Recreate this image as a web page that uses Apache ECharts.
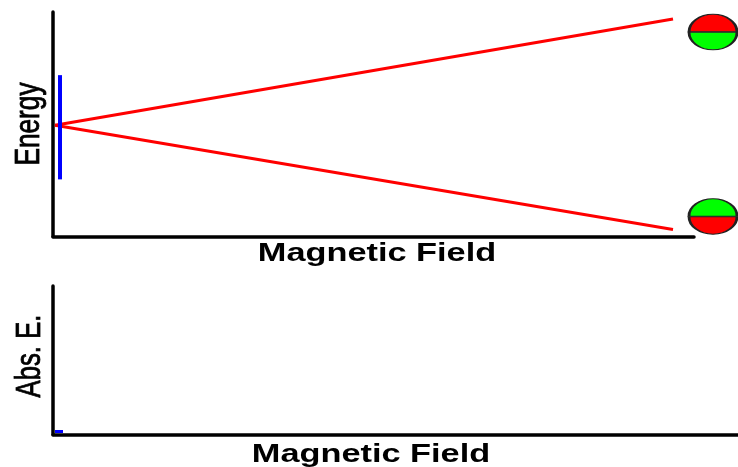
<!DOCTYPE html>
<html>
<head>
<meta charset="utf-8">
<style>html,body{margin:0;padding:0;background:#fff}#c{width:738px;height:467px}</style>
<script src="https://cdn.jsdelivr.net/npm/echarts@6/dist/echarts.min.js"></script>
</head>
<body>
<div id="c"></div>
<script>
// Data, in axis units
const upperLevel = [[2, 111], [620, 217]];
const lowerLevel = [[2, 111], [620, 7]];
const fieldMarker = [[7, 57], [7, 161]];
const absorption = [[2, 3], [10, 3]];
const spinUpState = [660, 204];
const spinDownState = [660, 20];
const xTitle = 'Magnetic Field';
const energyTitle = 'Energy';
const absTitle = 'Abs. E.';

const halfUp = 'path://M0 50A50 50 0 0 1 100 50Z';
const halfDown = 'path://M0 0A50 50 0 0 0 100 0Z';
const BLACK = '#000', RED = '#ff0000', GREEN = '#00ff00', BLUE = '#0000ff';

const hiddenAxis = (gridIndex, max) => ({
  type: 'value', gridIndex, min: 0, max,
  axisLine: {show: true, onZero: false, lineStyle: {color: BLACK, width: 3.5}},
  axisTick: {show: false}, axisLabel: {show: false}, splitLine: {show: false}
});
const line = (name, data, color, width, idx) => ({
  type: 'line', name, data, xAxisIndex: idx, yAxisIndex: idx, showSymbol: false, symbol: 'none',
  lineStyle: {color, width, cap: 'butt'}, silent: true, animation: false, clip: false
});
const half = (color, items) => ({
  type: 'scatter', data: items, xAxisIndex: 0, yAxisIndex: 0, clip: false, silent: true, z: 5,
  symbolSize: [48, 17.5],
  itemStyle: {color, borderColor: '#222', borderWidth: 1.7, opacity: 1}
});
const label = (text, x, y, size, weight, scaleX, rotation, strokeWidth) => ({
  type: 'text', x, y, rotation, scaleX, scaleY: 1, silent: true,
  style: {text, fill: BLACK, stroke: strokeWidth ? BLACK : null, lineWidth: strokeWidth || 0,
    font: `${weight} ${size}px "Liberation Sans"`, align: 'center', verticalAlign: 'middle'}
});

const chart = echarts.init(document.getElementById('c'), null, {renderer: 'canvas'});
chart.setOption({
  animation: false,
  backgroundColor: '#fff',
  grid: [
    {left: 53, top: 12, width: 641, height: 224.5},
    {left: 53, top: 286, width: 685, height: 148.5}
  ],
  xAxis: [hiddenAxis(0, 641), hiddenAxis(1, 685)],
  yAxis: [hiddenAxis(0, 224), hiddenAxis(1, 148)],
  series: [
    line('Upper level', upperLevel, RED, 3, 0),
    line('Lower level', lowerLevel, RED, 3, 0),
    line('Field marker', fieldMarker, BLUE, 4, 0),
    line('Absorption', absorption, BLUE, 3, 1),
    half(RED, [
      {value: spinUpState, symbol: halfUp, symbolOffset: [0, -9]},
      {value: spinDownState, symbol: halfDown, symbolOffset: [0, 9]}
    ]),
    half(GREEN, [
      {value: spinUpState, symbol: halfDown, symbolOffset: [0, 9]},
      {value: spinDownState, symbol: halfUp, symbolOffset: [0, -9]}
    ])
  ],
  graphic: [
    label(xTitle, 377, 254, 26, 'bold', 1.32, 0),
    label(xTitle, 371, 455, 26, 'bold', 1.32, 0),
    label(energyTitle, 29, 124, 35, 'normal', 0.75, Math.PI / 2, 0.8),
    label(absTitle, 30, 356, 35, 'normal', 0.735, Math.PI / 2, 0.8)
  ]
});
</script>
</body>
</html>
